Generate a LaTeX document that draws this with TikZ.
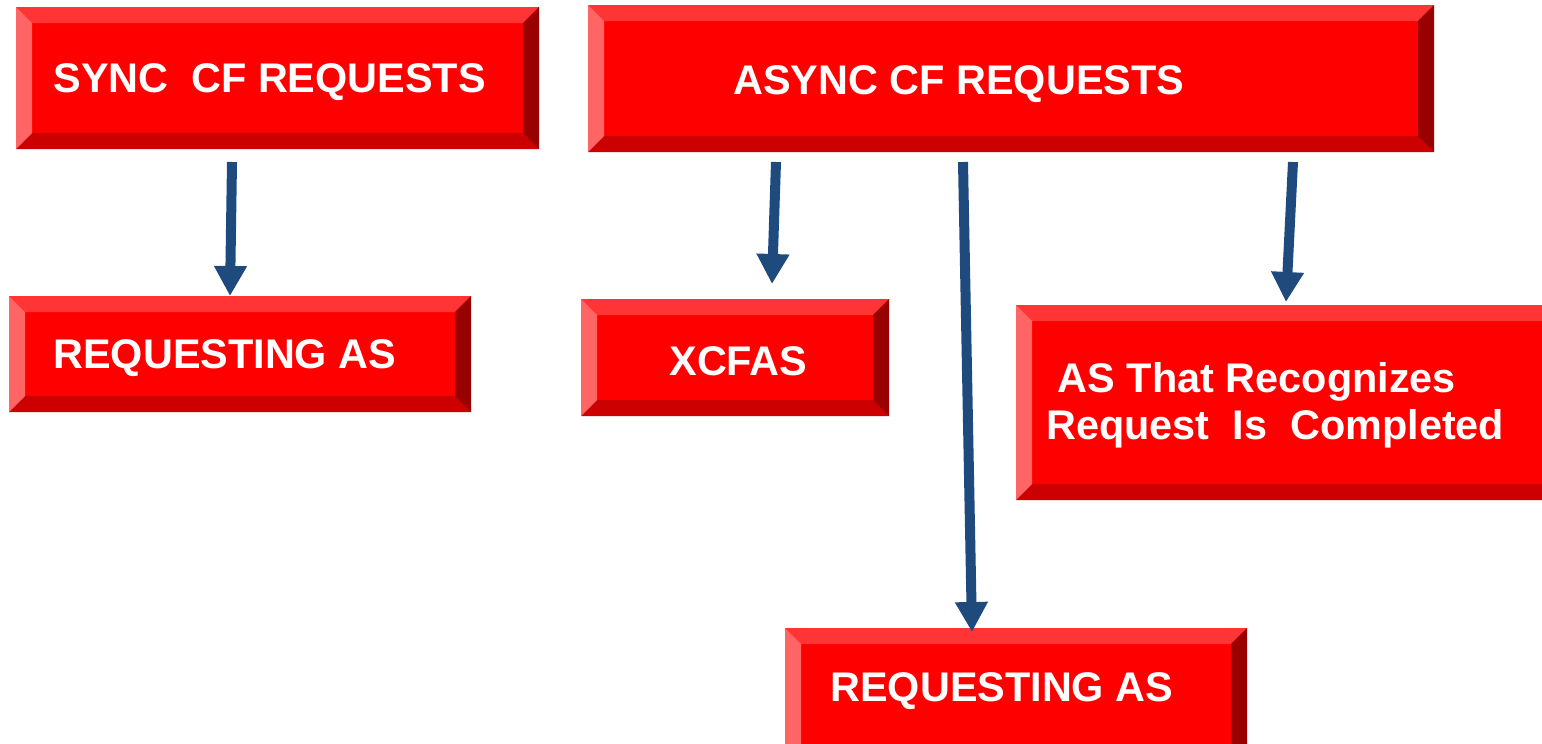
\documentclass[tikz,border=0pt]{standalone}
\usepackage{fontspec}
\setmainfont{Liberation Sans}
\usetikzlibrary{arrows.meta}
\definecolor{bevface}{HTML}{FF0000}
\definecolor{bevtop}{HTML}{FF3535}
\definecolor{bevleft}{HTML}{FF6565}
\definecolor{bevbot}{HTML}{CC0000}
\definecolor{bevright}{HTML}{990000}
\definecolor{arrowblue}{HTML}{1F4A7E}
\tikzset{
  bevbox/.style 2 args={draw=none, fill=bevface, inner sep=0pt, minimum width=#1*0.5pt, minimum height=#2*0.5pt,
    path picture={
      \def\bw{8pt}
      \fill[bevtop] (path picture bounding box.north west) -- (path picture bounding box.north east)
         -- ([shift={(-\bw,-\bw)}]path picture bounding box.north east) -- ([shift={(\bw,-\bw)}]path picture bounding box.north west) -- cycle;
      \fill[bevbot] (path picture bounding box.south west) -- (path picture bounding box.south east)
         -- ([shift={(-\bw,\bw)}]path picture bounding box.south east) -- ([shift={(\bw,\bw)}]path picture bounding box.south west) -- cycle;
      \fill[bevleft] (path picture bounding box.north west) -- (path picture bounding box.south west)
         -- ([shift={(\bw,\bw)}]path picture bounding box.south west) -- ([shift={(\bw,-\bw)}]path picture bounding box.north west) -- cycle;
      \fill[bevright] (path picture bounding box.north east) -- (path picture bounding box.south east)
         -- ([shift={(-\bw,\bw)}]path picture bounding box.south east) -- ([shift={(-\bw,-\bw)}]path picture bounding box.north east) -- cycle;
    }},
  boxtext/.style={text=white, font=\fontsize{20.7}{23.5}\selectfont\bfseries, inner sep=0pt, anchor=west},
  bluearrow/.style={draw=arrowblue, line width=5pt, -{Triangle[width=15.5pt,length=15pt]}}
}
\begin{document}
\begin{tikzpicture}[x=0.5pt,y=-0.5pt]
\useasboundingbox (0,0) rectangle (1542,744);
% boxes (center, width, height in px)
\node[bevbox={523}{142}] (sync) at (277.5,78) {};
\node[bevbox={846}{147}] (async) at (1011,78.5) {};
\node[bevbox={462}{116}] (reqL) at (240,354) {};
\node[bevbox={308}{117}] (xcfas) at (735,357.5) {};
\node[bevbox={544}{195}] (recog) at (1288,402.5) {};
\node[bevbox={462}{132}] (reqB) at (1016,694) {};
% texts
\node[boxtext] (tsync) at (53,82) {SYNC\ \ CF REQUESTS};
\node[boxtext] (tasync) at (733,84) {ASYNC CF REQUESTS};
\node[boxtext] (treqL) at (53,358) {REQUESTING AS};
\node[boxtext] (txcfas) at (669,361) {XCFAS};
\node[boxtext, align=left] (trecog) at (1046,405) {\ AS That Recognizes\\Request\ \ Is\ \ Completed};
\node[boxtext] (treqB) at (830,691) {REQUESTING AS};
% arrow end points
\coordinate (s1) at (232,162);
\coordinate (e1) at (230,296);
\coordinate (s2) at (776,162);
\coordinate (e2) at (772,284);
\coordinate (s3) at (963,162);
\coordinate (e3) at (972,632);
\coordinate (s4) at (1293,162);
\coordinate (e4) at (1286,302);
\draw[bluearrow] (s1) -- (e1);
\draw[bluearrow] (s2) -- (e2);
\draw[bluearrow] (s3) -- (e3);
\draw[bluearrow] (s4) -- (e4);
\end{tikzpicture}
\end{document}
